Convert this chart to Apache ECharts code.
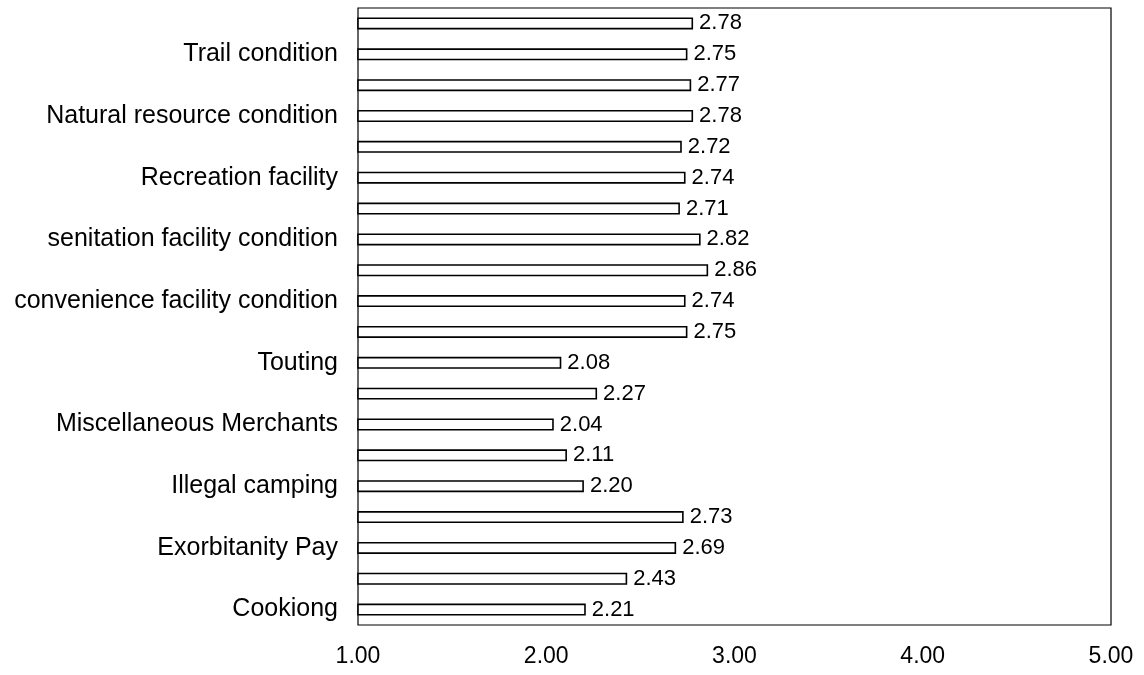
<!DOCTYPE html>
<html>
<head>
<meta charset="utf-8">
<script src="https://cdn.jsdelivr.net/npm/echarts@6/dist/echarts.min.js"></script>
<style>html,body{margin:0;padding:0;background:#fff}#c{width:1144px;height:675px}</style>
</head>
<body>
<div id="c"></div>
<script>
const categoryLabels = ["", "Trail condition", "", "Natural resource condition", "", "Recreation facility", "", "senitation facility condition", "", "convenience facility condition", "", "Touting", "", "Miscellaneous Merchants", "", "Illegal camping", "", "Exorbitanity Pay", "", "Cookiong"];
const values = [2.78, 2.75, 2.77, 2.78, 2.72, 2.74, 2.71, 2.82, 2.86, 2.74, 2.75, 2.08, 2.27, 2.04, 2.11, 2.20, 2.73, 2.69, 2.43, 2.21];
const xTicks = [1, 2, 3, 4, 5];

const rowKeys = categoryLabels.map((_, i) => 'r' + i);
const chart = echarts.init(document.getElementById('c'));
chart.setOption({
  backgroundColor: '#fff',
  animation: false,
  grid: { left: 358, right: 33, top: 8, bottom: 50, show: true, borderColor: '#000', borderWidth: 1.2, containLabel: false },
  xAxis: {
    type: 'value', min: xTicks[0], max: xTicks[xTicks.length - 1], interval: 1,
    axisLine: { show: false }, axisTick: { show: false }, splitLine: { show: false },
    axisLabel: { formatter: v => v.toFixed(2), color: '#000', fontSize: 23, fontFamily: 'Liberation Sans', margin: 20 }
  },
  yAxis: {
    type: 'category', data: rowKeys, inverse: true,
    axisLine: { show: false }, axisTick: { show: false }, splitLine: { show: false },
    axisLabel: { interval: 0, formatter: (v, i) => categoryLabels[i], color: '#000', fontSize: 25, fontFamily: 'Liberation Sans', margin: 20 }
  },
  series: [{
    type: 'bar', data: values, barWidth: 12,
    itemStyle: { color: '#fff', borderColor: '#000', borderWidth: 1.6 },
    label: { show: true, position: 'right', distance: 6, formatter: p => p.value.toFixed(2), color: '#000', fontSize: 22, fontFamily: 'Liberation Sans' }
  }]
});
</script>
</body>
</html>
